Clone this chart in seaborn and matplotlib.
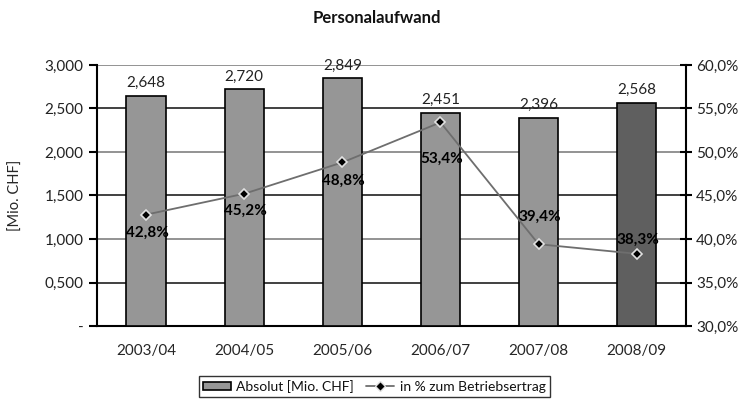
import matplotlib.pyplot as plt
import pandas as pd
import seaborn as sns
from matplotlib.lines import Line2D
from matplotlib.patches import Patch

jahre = ["2003/04", "2004/05", "2005/06", "2006/07", "2007/08", "2008/09"]
absolut = [2648, 2720, 2849, 2451, 2396, 2568]
prozent = [42.8, 45.2, 48.8, 53.4, 39.4, 38.3]

sns.set_style("white")
plt.rcParams['font.family'] = ['Lato', 'DejaVu Sans']
plt.rcParams['font.size'] = 11
plt.rcParams['text.color'] = '#111111'

df = pd.DataFrame({"jahr": jahre, "absolut": absolut, "prozent": prozent})

fig = plt.figure(figsize=(7.53, 4.01), dpi=100)
ax = fig.add_axes([0.1288, 0.187, 0.782, 0.651])

farben = ["#969696"] * 5 + ["#5f5f5f"]
sns.barplot(ax=ax, data=df, x="jahr", y="absolut", hue="jahr", palette=farben,
            legend=False, width=0.4, edgecolor="black", linewidth=1.2, zorder=3)
ax.set_xlim(-0.5, 5.5)
ax.set_ylim(0, 3000)
ax.set_yticks(range(0, 3001, 500))
ax.set_yticklabels(["-", "0,500", "1,000", "1,500", "2,000", "2,500", "3,000"])
ax.set_xlabel("")
ax.set_ylabel("[Mio. CHF]", fontsize=10.5, labelpad=16)

# Gitterlinien abwechselnd grau / schwarz
for i, v in enumerate(range(500, 3001, 500)):
    ax.axhline(v, color="#202020" if i % 2 == 0 else "#808080", lw=1.2, zorder=1)

for i, v in enumerate(absolut):
    ax.annotate(f"{v:,}", (i, v), xytext=(0, 4), textcoords="offset points",
                ha="center", va="bottom", fontsize=11, color="#222222")

ax.spines["top"].set_visible(False)
ax.spines["right"].set_visible(False)
for s in ["left", "bottom"]:
    ax.spines[s].set_color("black")
    ax.spines[s].set_linewidth(1.5)

ax.set_xticks([i - 0.5 for i in range(7)], minor=False)
ax.set_xticklabels([""] * 7)
ax.set_xticks(range(6), minor=True)
ax.set_xticklabels(jahre, minor=True)
ax.tick_params(axis="x", which="major", direction="out", length=6, width=1.2, color="black")
ax.tick_params(axis="x", which="minor", length=0, pad=13, labelsize=11)
ax.tick_params(axis="y", direction="out", length=6, width=1.5, color="black",
               labelsize=11, labelcolor="#222222")

ax2 = ax.twinx()
sns.lineplot(ax=ax2, x=range(6), y=prozent, color="#6e6e6e", lw=1.3, zorder=4,
             marker="D", markersize=5, markerfacecolor="black",
             markeredgecolor="#e0e0e0", markeredgewidth=1.2)
ax2.set_ylim(30, 60)
ax2.set_yticks(range(30, 61, 5))
ax2.set_yticklabels([f"{v},0%" for v in range(30, 61, 5)])
ax2.tick_params(axis="y", direction="inout", length=8, width=1.5, color="black",
                labelsize=11, labelcolor="#222222")
for s in ["top", "left", "bottom"]:
    ax2.spines[s].set_visible(False)
ax2.spines["right"].set_color("black")
ax2.spines["right"].set_linewidth(1.5)

versatz = [-13, -12, -13, -26, 20, 10]
for i, v in enumerate(prozent):
    ax2.annotate(f"{v:.1f}%".replace(".", ","), (i, v), xytext=(1, versatz[i]),
                 textcoords="offset points", ha="center", va="center",
                 fontsize=11, fontweight="bold", color="black", zorder=5)

fig.suptitle("Personalaufwand", fontsize=12, fontweight="bold", y=0.975)

handles = [Patch(facecolor="#969696", edgecolor="black", linewidth=1.2),
           Line2D([0], [0], color="#6e6e6e", lw=1.3, marker="D", markersize=5,
                  markerfacecolor="black", markeredgecolor="#e0e0e0")]
leg = fig.legend(handles, ["Absolut [Mio. CHF]", "in % zum Betriebsertrag"],
                 loc="center", bbox_to_anchor=(0.497, 0.037), ncol=2, frameon=True,
                 fancybox=False, edgecolor="black", fontsize=10, handlelength=2.0,
                 handleheight=0.5, handletextpad=0.4, columnspacing=0.9,
                 borderpad=0.3)
leg.get_frame().set_linewidth(1.0)

fig.savefig("out.png", dpi=100)
